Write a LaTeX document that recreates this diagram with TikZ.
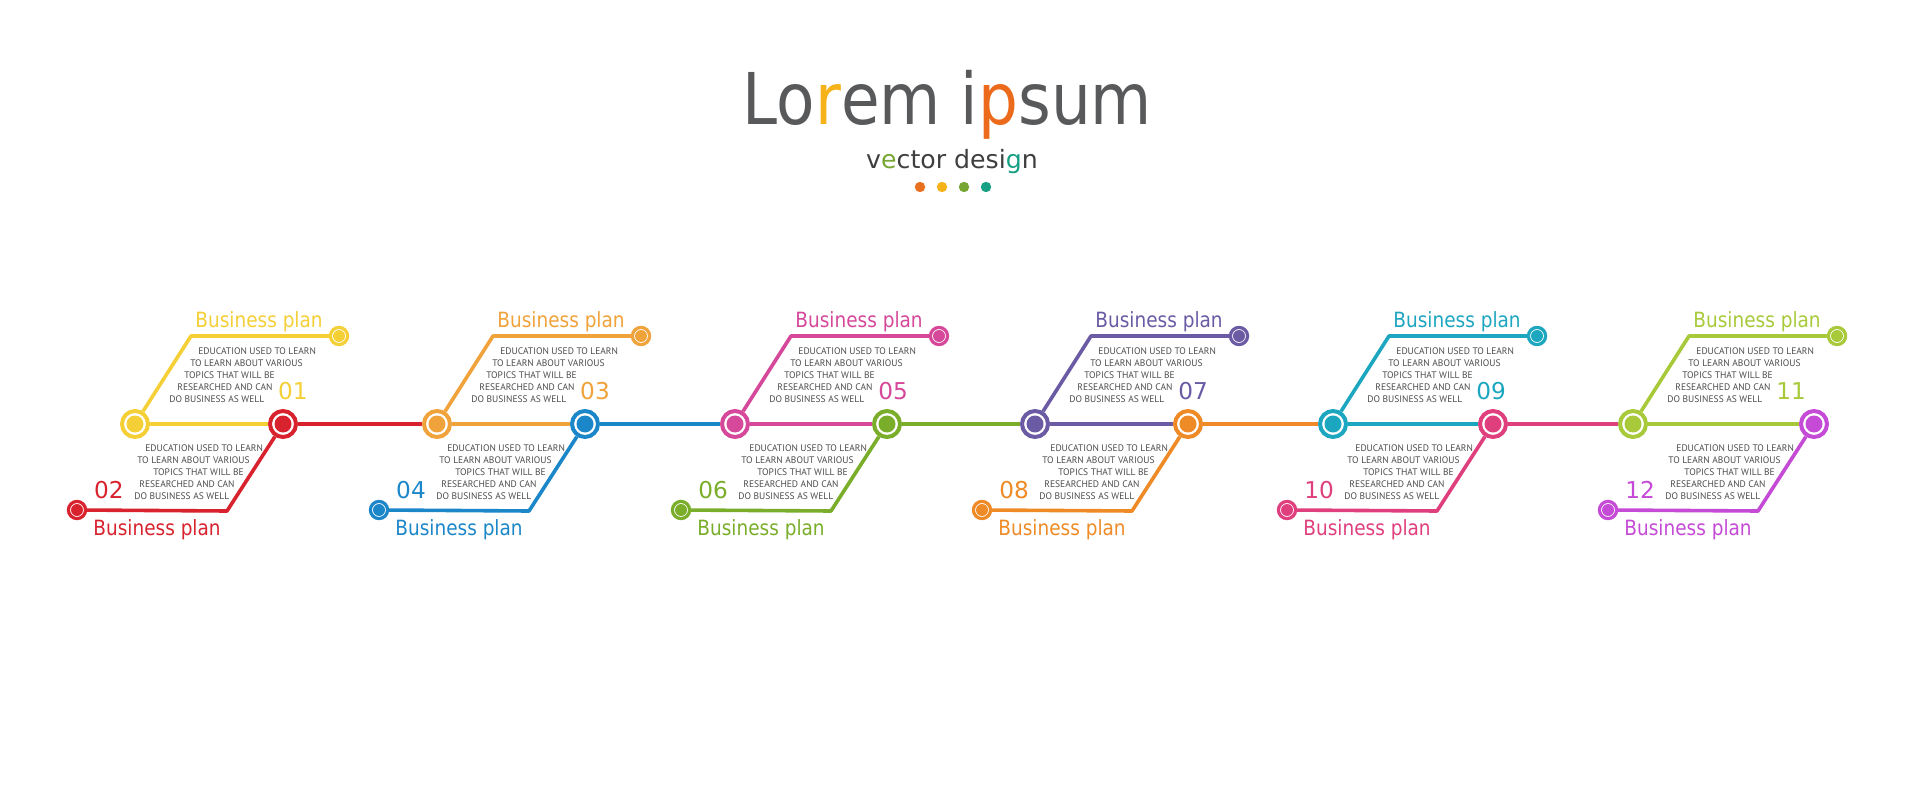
\documentclass[tikz,border=0pt]{standalone}
\usepackage{fontspec}
\setmainfont{PT Sans}
\newfontfamily\headfont[FakeStretch=0.88]{DejaVu Sans}
\newfontfamily\numfont{DejaVu Sans}
\usetikzlibrary{positioning}
\usepackage{xcolor}
\definecolor{TitleGray}{HTML}{58595B}
\definecolor{SubGray}{HTML}{3F3F3F}
\definecolor{BlurbGray}{HTML}{4D4D4F}
\definecolor{TitleR}{HTML}{F6B319}
\definecolor{TitleP}{HTML}{EC6A1C}
\definecolor{SubE}{HTML}{78A632}
\definecolor{SubG}{HTML}{15A084}
\definecolor{DotOrange}{HTML}{E8701E}
\definecolor{CYellow}{HTML}{F5CF36}
\definecolor{CRed}{HTML}{D8232F}
\definecolor{COrange}{HTML}{F0A33A}
\definecolor{CBlue}{HTML}{1C87C8}
\definecolor{CPink}{HTML}{D5489A}
\definecolor{CGreen}{HTML}{7AAE2A}
\definecolor{CPurple}{HTML}{6B5BA5}
\definecolor{CTangerine}{HTML}{EF8B26}
\definecolor{CTeal}{HTML}{1DA6C0}
\definecolor{CRose}{HTML}{E03F7E}
\definecolor{CLime}{HTML}{A8CA3A}
\definecolor{CViolet}{HTML}{C54AD6}
\tikzset{
    % Circles - ring with a dot inside
    hub/.style={
        circle,
        draw=#1,
        fill=white,
        line width=2pt,
        minimum size=13pt,
        inner sep=0pt,
        path picture={\fill[#1] (path picture bounding box.center) circle (4.25pt);}
    },
    tip/.style={
        circle,
        draw=#1,
        fill=white,
        line width=1.6pt,
        minimum size=8.6pt,
        inner sep=0pt,
        path picture={\fill[#1] (path picture bounding box.center) circle (3pt);}
    },
    % Lines
    trunk/.style={
        draw=#1,
        line width=2.3pt
    },
    branch/.style={
        draw=#1,
        line width=1.8pt,
        line join=round
    },
    % Texts
    heading/.style={
        font=\headfont\fontsize{10.5pt}{12pt}\selectfont,
        text=#1,
        anchor=base west,
        inner sep=0pt
    },
    numlabel/.style={
        font=\numfont\fontsize{11.6pt}{12pt}\selectfont,
        text=#1,
        anchor=base,
        inner sep=0pt
    },
    blurb/.style={
        font=\fontsize{4.75pt}{6.1pt}\selectfont,
        text=BlurbGray,
        align=left,
        anchor=north west,
        inner sep=0pt
    }
}

\begin{document}
\begin{tikzpicture}[x=0.5pt, y=-0.5pt]
    \useasboundingbox (0,0) rectangle (1920,807);
    \fill[white] (0,0) rectangle (1920,807);

    % title
    \node[font=\headfont\fontsize{35.7pt}{40pt}\selectfont, text=TitleGray, anchor=base, inner sep=0pt] (title) at (947.5,125)
        {Lo\textcolor{TitleR}{r}em i\textcolor{TitleP}{p}sum};
    \node[font=\numfont\fontsize{12.6pt}{14pt}\selectfont, text=SubGray, anchor=base, inner sep=0pt] (subtitle) at (952,169)
        {v\textcolor{SubE}{e}ctor desi\textcolor{SubG}{g}n};
    \fill[DotOrange] (920,187) circle (2.6pt);
    \fill[TitleR] (942,187) circle (2.6pt);
    \fill[SubE] (964,187) circle (2.6pt);
    \fill[SubG] (986,187) circle (2.6pt);

    % steps
    \foreach \U/\L/\cu/\cl/\nu/\nl in {135/283/CYellow/CRed/01/02,
                                       437/585/COrange/CBlue/03/04,
                                       735/887/CPink/CGreen/05/06,
                                       1035/1188/CPurple/CTangerine/07/08,
                                       1333/1493/CTeal/CRose/09/10,
                                       1633/1814/CLime/CViolet/11/12} {
        % upper step
        \node[hub=\cu] (hub\nu) at (\U,424) {};
        \coordinate (corner\nu) at (\U+56,336);
        \node[tip=\cu] (tip\nu) at (\U+204,336) {};
        \node[heading=\cu] (head\nu) at (\U+60,328) {Business plan};
        \node[numlabel=\cu] (num\nu) at (\U+158,400) {\nu};
        \node[blurb] (blurb\nu) at (\U+34,347) {\hspace*{14.5pt}EDUCATION USED TO LEARN\\
            \hspace*{10.5pt}TO LEARN ABOUT VARIOUS\\
            \hspace*{7.5pt}TOPICS THAT WILL BE\\
            \hspace*{4pt}RESEARCHED AND CAN\\
            DO BUSINESS AS WELL};
        % lower step
        \node[hub=\cl] (hub\nl) at (\L,424) {};
        \coordinate (corner\nl) at (\L-56,511);
        \node[tip=\cl] (tip\nl) at (\L-206,510) {};
        \node[heading=\cl] (head\nl) at (\L-190,535) {Business plan};
        \node[numlabel=\cl] (num\nl) at (\L-174,498) {\nl};
        \node[blurb] (blurb\nl) at (\L-149,444) {\hspace*{5.5pt}EDUCATION USED TO LEARN\\
            \hspace*{1.5pt}TO LEARN ABOUT VARIOUS\\
            \hspace*{9.5pt}TOPICS THAT WILL BE\\
            \hspace*{2.5pt}RESEARCHED AND CAN\\
            DO BUSINESS AS WELL};

        \draw[branch=\cu] (hub\nu) -- (corner\nu) -- (tip\nu);
        \draw[branch=\cl] (hub\nl) -- (corner\nl) -- (tip\nl);
        \draw[trunk=\cu] (hub\nu) -- (hub\nl);
    }

    % trunk between steps
    \foreach \a/\b/\c in {02/03/CRed, 04/05/CBlue, 06/07/CGreen, 08/09/CTangerine, 10/11/CRose}
        \draw[trunk=\c] (hub\a) -- (hub\b);
\end{tikzpicture}
\end{document}
